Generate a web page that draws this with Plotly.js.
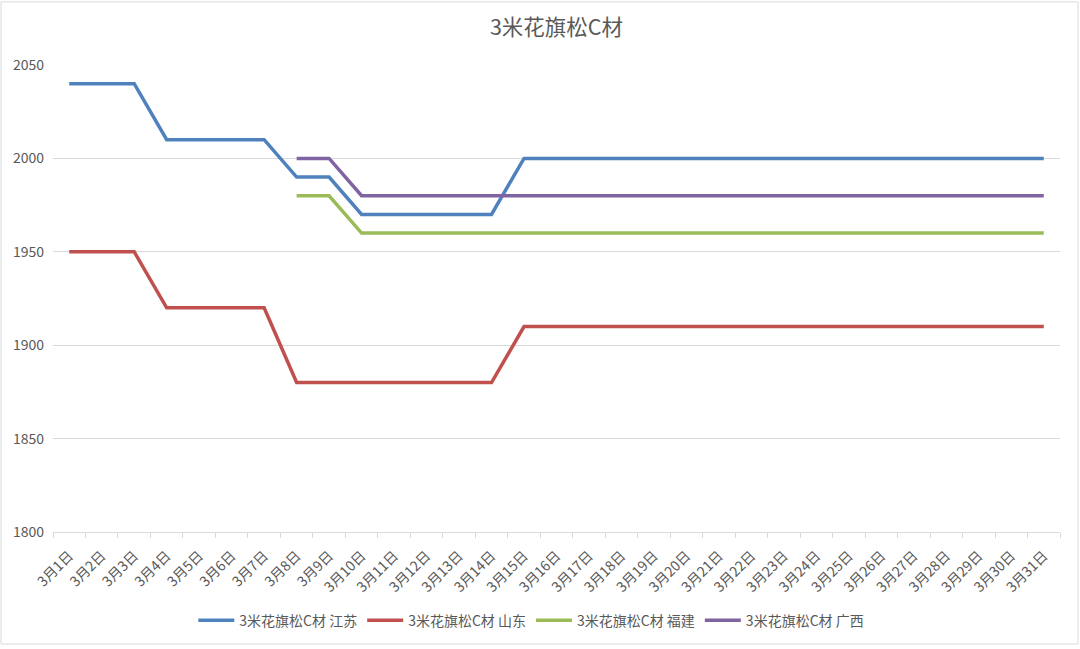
<!DOCTYPE html>
<html>
<head>
<meta charset="utf-8">
<script src="https://cdn.plot.ly/plotly-3.0.1.min.js"></script>
<style>
html,body{margin:0;padding:0;background:#fff;}
#chart{width:1080px;height:649px;}
</style>
</head>
<body>
<div id="chart"></div>
<script>
const categories = [];
for (let d = 1; d <= 31; d++) categories.push('3月' + d + '日');

const jiangsu = [2040,2040,2040,2010,2010,2010,2010,1990,1990,1970,1970,1970,1970,1970,2000,2000,2000,2000,2000,2000,2000,2000,2000,2000,2000,2000,2000,2000,2000,2000,2000];
const shandong = [1950,1950,1950,1920,1920,1920,1920,1880,1880,1880,1880,1880,1880,1880,1910,1910,1910,1910,1910,1910,1910,1910,1910,1910,1910,1910,1910,1910,1910,1910,1910];
const fujian = [null,null,null,null,null,null,null,1980,1980,1960,1960,1960,1960,1960,1960,1960,1960,1960,1960,1960,1960,1960,1960,1960,1960,1960,1960,1960,1960,1960,1960];
const guangxi = [null,null,null,null,null,null,null,2000,2000,1980,1980,1980,1980,1980,1980,1980,1980,1980,1980,1980,1980,1980,1980,1980,1980,1980,1980,1980,1980,1980,1980];

const seriesNames = ['3米花旗松C材 江苏','3米花旗松C材 山东','3米花旗松C材 福建','3米花旗松C材 广西'];
const seriesData = [jiangsu, shandong, fujian, guangxi];
const colors = ['#4F81BD','#C0504D','#9BBB59','#8064A2'];

const traces = seriesData.map((ys, i) => ({
  x: categories, y: ys, name: seriesNames[i], type: 'scatter', mode: 'lines',
  line: {color: colors[i], width: 3.5}, connectgaps: false, hoverinfo: 'x+y+name'
}));

const font = "'Noto Sans CJK SC', 'Noto Sans', sans-serif";
const layout = {
  width: 1080, height: 649,
  margin: {l: 53, r: 20, t: 64.5, b: 114.7},
  paper_bgcolor: '#fff', plot_bgcolor: '#fff',
  font: {family: font, color: '#595959', size: 12},
  title: {text: '3米花旗松C材', x: 0.5, xref: 'paper', y: 0.957, yanchor: 'middle',
          font: {family: font, size: 21.5, color: '#595959'}},
  xaxis: {type: 'category', range: [-0.5, 30.5], showgrid: false,
          showline: true, linecolor: '#d9d9d9', linewidth: 1,
          ticks: 'outside', tickson: 'boundaries', ticklen: 5, tickcolor: '#d9d9d9',
          ticklabelstandoff: 9,
          tickangle: -45, tickfont: {size: 14, color: '#595959'}, zeroline: false, fixedrange: true},
  yaxis: {range: [1800, 2050], dtick: 50, tick0: 1800, showgrid: true, gridcolor: '#d9d9d9',
          gridwidth: 1, showline: false, zeroline: false, ticks: '', ticklabelstandoff: 8,
          tickfont: {size: 14, color: '#595959'}, fixedrange: true},
  legend: {orientation: 'h', x: 0.475, xanchor: 'center', y: -0.19, yanchor: 'middle',
           font: {size: 14, color: '#595959'}, itemwidth: 36, tracegroupgap: 0,
           bgcolor: 'rgba(0,0,0,0)'},
  shapes: [{type: 'rect', xref: 'paper', yref: 'paper',
            x0: -0.0516, x1: 1.0179, y0: -0.2399, y1: 1.1352,
            line: {color: '#d9d9d9', width: 1}, fillcolor: 'rgba(0,0,0,0)', layer: 'below'}],
  showlegend: true
};

Plotly.newPlot('chart', traces, layout, {displayModeBar: false, staticPlot: true});
</script>
</body>
</html>
